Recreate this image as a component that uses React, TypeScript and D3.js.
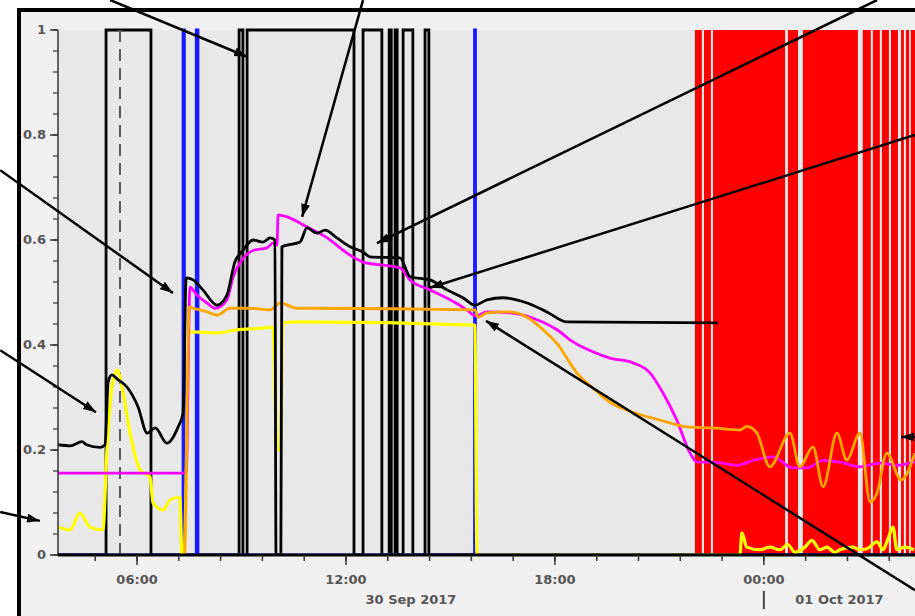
import React from 'react';
import * as d3 from 'd3';

// times are hours after 30 Sep 2017 00:00
const domainStart = 3.73;
const domainEnd = 28.34;
const cursorTime = 5.51;

// black on/off state
const stateTimes = [3.73, 5.11, 6.4, 8.93, 9.04, 9.16, 12.23, 12.49, 13.03, 13.24, 13.3, 13.41, 13.47, 13.64, 13.92, 14.27, 14.38, 28.34];
const stateLevels = [0, 1, 0, 1, 0, 1, 0, 1, 0, 1, 0, 1, 0, 1, 0, 1, 0, 0];

// blue pulses
const pulseTimes = [3.73, 7.32, 7.36, 7.7, 7.75, 15.69, 15.72, 28.34];
const pulseLevels = [0, 1, 0, 1, 0, 1, 0, 0];

// red alarm state
const alarmTimes = [3.73, 22.02, 22.22, 22.28, 22.48, 22.54, 24.61, 24.69, 24.98, 25.12, 26.7, 26.84, 27.07, 27.13, 27.33, 27.39, 27.59, 27.65, 27.85, 27.94, 28.02, 28.08, 28.17, 28.22, 28.34];
const alarmLevels = [0, 1, 0, 1, 0, 1, 0, 1, 0, 1, 0, 1, 0, 1, 0, 1, 0, 1, 0, 1, 0, 1, 0, 1, 1];

const blackTimes = [3.73, 4.08, 4.42, 4.55, 4.94, 5.08, 5.17, 5.28, 5.43, 5.71, 6.03, 6.29, 6.52, 6.86, 7.18, 7.32, 7.41, 7.61, 7.89, 8.3, 8.58, 8.81, 9.04, 9.33, 9.62, 9.82, 9.96, 9.99, 10.13, 10.16, 10.68, 10.88, 11.17, 11.4, 11.74, 12.12, 12.49, 12.69, 13.55, 13.84, 14.41, 14.9, 15.36, 15.7, 16.05, 16.51, 17.2, 17.77, 18.35, 22.68];
const blackValues = [0.21, 0.208, 0.216, 0.21, 0.205, 0.21, 0.33, 0.343, 0.335, 0.32, 0.282, 0.232, 0.242, 0.213, 0.244, 0.27, 0.528, 0.524, 0.505, 0.476, 0.495, 0.558, 0.58, 0.6, 0.596, 0.604, 0.6, 0.0, 0.0, 0.587, 0.596, 0.623, 0.613, 0.619, 0.604, 0.587, 0.577, 0.568, 0.566, 0.53, 0.524, 0.505, 0.49, 0.476, 0.486, 0.49, 0.48, 0.463, 0.444, 0.442];

const magentaTimes = [3.73, 7.41, 7.52, 7.72, 8.01, 8.24, 8.58, 8.76, 9.01, 9.33, 9.73, 9.9, 10.02, 10.05, 10.31, 10.88, 11.46, 12.03, 12.49, 13.06, 13.55, 13.84, 14.41, 14.99, 15.47, 15.73, 16.05, 16.71, 17.37, 18.06, 18.52, 19.09, 19.58, 20.24, 20.73, 21.1, 21.5, 21.88, 22.08, 22.54, 23.23, 23.69, 24.26, 24.83, 25.24, 25.7, 26.18, 26.76, 27.33, 27.82, 28.34];
const magentaValues = [0.156, 0.156, 0.51, 0.495, 0.48, 0.47, 0.486, 0.53, 0.562, 0.58, 0.585, 0.594, 0.59, 0.648, 0.644, 0.625, 0.604, 0.575, 0.558, 0.552, 0.547, 0.524, 0.505, 0.486, 0.467, 0.455, 0.463, 0.461, 0.451, 0.429, 0.406, 0.387, 0.375, 0.366, 0.347, 0.309, 0.257, 0.194, 0.177, 0.177, 0.171, 0.18, 0.187, 0.166, 0.166, 0.18, 0.177, 0.168, 0.175, 0.171, 0.177];

const orangeTimes = [7.3, 7.36, 7.5, 7.61, 8.01, 8.3, 8.67, 9.24, 9.82, 10.11, 10.59, 11.05, 15.7, 15.79, 16.05, 16.65, 17.2, 17.66, 18.14, 18.43, 18.63, 19.09, 19.58, 20.24, 21.02, 21.79, 22.54, 23.31, 23.51, 23.8, 24.17, 24.75, 25.03, 25.41, 25.7, 26.1, 26.38, 26.76, 27.05, 27.25, 27.53, 27.94, 28.34];
const orangeValues = [0.0, 0.0, 0.472, 0.47, 0.463, 0.457, 0.47, 0.47, 0.467, 0.48, 0.47, 0.47, 0.467, 0.453, 0.461, 0.463, 0.453, 0.429, 0.396, 0.366, 0.347, 0.318, 0.291, 0.272, 0.257, 0.244, 0.242, 0.238, 0.245, 0.232, 0.168, 0.232, 0.168, 0.206, 0.13, 0.232, 0.181, 0.232, 0.101, 0.118, 0.194, 0.143, 0.194];

const yellowTimes = [3.73, 4.08, 4.36, 4.65, 5.02, 5.14, 5.28, 5.43, 5.57, 5.8, 6.09, 6.37, 6.46, 6.75, 6.95, 7.23, 7.29, 7.35, 7.5, 7.61, 8.3, 8.87, 9.62, 9.9, 10.02, 10.11, 10.19, 10.59, 15.7, 15.76, 23.31, 23.37, 23.51, 23.89, 24.17, 24.46, 24.69, 24.89, 25.18, 25.38, 25.61, 25.81, 26.04, 26.18, 26.56, 26.76, 26.96, 27.25, 27.42, 27.56, 27.71, 27.82, 28.05, 28.31];
const yellowValues = [0.053, 0.048, 0.08, 0.053, 0.048, 0.206, 0.32, 0.352, 0.32, 0.232, 0.162, 0.149, 0.099, 0.086, 0.105, 0.11, 0.0, 0.0, 0.423, 0.425, 0.423, 0.429, 0.432, 0.434, 0.2, 0.2, 0.442, 0.444, 0.438, 0.0, 0.0, 0.042, 0.015, 0.01, 0.015, 0.01, 0.02, 0.005, 0.015, 0.028, 0.01, 0.015, 0.005, 0.01, 0.015, 0.01, 0.012, 0.025, 0.01, 0.03, 0.053, 0.01, 0.015, 0.01];

// annotation arrows: [tail time, tail value, head time, head value]
const arrows: [number, number, number, number][] = [
  [5.23, 1.057, 9.16, 0.949],
  [12.49, 1.057, 10.74, 0.644],
  [2.07, 0.733, 7.03, 0.499],
  [2.07, 0.39, 4.82, 0.272],
  [2.07, 0.082, 3.21, 0.065],
  [27.25, 1.057, 12.89, 0.594],
  [28.34, 0.8, 14.41, 0.509],
  [28.34, -0.067, 16.02, 0.446],
  [28.34, 0.225, 27.94, 0.225],
];

const yMajor = [0, 0.2, 0.4, 0.6, 0.8, 1];

const W = 915;
const H = 616;
const left = 58;
const top = 30;
const bottom = 555;

const base = new Date(2017, 8, 30).getTime();
const toDate = (h: number) => new Date(base + h * 3600000);
const zip = (t: number[], v: number[]) => t.map((d, i) => [d, v[i]] as [number, number]);

export default function App() {
  const x = d3.scaleTime().domain([toDate(domainStart), toDate(domainEnd)]).range([left, W]);
  const y = d3.scaleLinear().domain([0, 1]).range([bottom, top]);

  const line = d3.line<[number, number]>()
    .x(d => x(toDate(d[0])))
    .y(d => y(d[1]))
    .curve(d3.curveMonotoneX);
  const step = d3.line<[number, number]>().x(d => x(toDate(d[0]))).y(d => y(d[1])).curve(d3.curveStepAfter);
  const stepArea = d3.area<[number, number]>()
    .x(d => x(toDate(d[0])))
    .y0(y(0))
    .y1(d => y(d[1]))
    .curve(d3.curveStepAfter);

  const xMajor = x.ticks(d3.timeHour.every(6)!);
  const xMinor = d3.range(0, 30, 1.2).filter(h => h >= domainStart && h <= domainEnd);
  const yMinor = d3.range(0, 1.0001, 0.04);
  const fmt = d3.timeFormat('%H:%M');
  const dayFmt = d3.timeFormat('%d %b %Y');
  const midnight = 24;

  const font = { fontFamily: 'DejaVu Sans, Verdana, sans-serif', fontSize: 13, fontWeight: 'bold' as const, fill: '#555' };

  return (
    <>
      <style>{'body{margin:0;overflow:hidden}'}</style>
      <svg width={W} height={H} style={{ display: 'block', background: '#fff' }}>
        <defs>
          <clipPath id="plot">
            <rect x={left} y={top - 3} width={W - left} height={bottom - top + 4} />
          </clipPath>
          <marker id="ah" viewBox="0 0 13 9" refX="13" refY="4.5" markerWidth="13" markerHeight="9"
            markerUnits="userSpaceOnUse" orient="auto">
            <path d="M0,0L13,4.5L0,9z" fill="#000" />
          </marker>
        </defs>

        {/* frame */}
        <rect x={19} y={10} width={W - 19} height={H - 10} fill="#f0f0f0" />
        <rect x={left} y={top} width={W - left} height={bottom - top} fill="#e8e8e8" />

        <g clipPath="url(#plot)">
          <path d={stepArea(zip(alarmTimes, alarmLevels))!} fill="#ff0000" />
          <path d={step(zip(stateTimes, stateLevels))!} fill="none" stroke="#000" strokeWidth={2.8} />
          <line x1={x(toDate(cursorTime))} x2={x(toDate(cursorTime))} y1={y(1)} y2={y(0)}
            stroke="#5a5a5a" strokeWidth={2} strokeDasharray="12 7" />
          <path d={step(zip(pulseTimes, pulseLevels))!} fill="none" stroke="#1a1aff" strokeWidth={2.8} />
          <path d={line(zip(yellowTimes, yellowValues))!} fill="none" stroke="#ffff00" strokeWidth={3.2} strokeLinejoin="round" />
          <path d={line(zip(magentaTimes, magentaValues))!} fill="none" stroke="#ff00ff" strokeWidth={2.8} strokeLinejoin="round" />
          <path d={line(zip(orangeTimes, orangeValues))!} fill="none" stroke="#ffa500" strokeWidth={2.8} strokeLinejoin="round" />
          <path d={line(zip(blackTimes, blackValues))!} fill="none" stroke="#000" strokeWidth={2.8} strokeLinejoin="round" />
        </g>

        {/* y axis */}
        <line x1={left} x2={left} y1={top} y2={bottom} stroke="#333" strokeWidth={1.5} />
        {yMinor.map(v => (
          <line key={'ym' + v} x1={left - 5} x2={left} y1={y(v)} y2={y(v)} stroke="#333" strokeWidth={1.2} />
        ))}
        {yMajor.map(v => (
          <g key={'yt' + v}>
            <line x1={left - 8} x2={left} y1={y(v)} y2={y(v)} stroke="#333" strokeWidth={1.5} />
            <text x={left - 12} y={y(v)} textAnchor="end" dominantBaseline="middle" {...font}>{String(v)}</text>
          </g>
        ))}

        {/* x axis */}
        <line x1={left} x2={W} y1={bottom} y2={bottom} stroke="#000" strokeWidth={3} />
        {xMinor.map(h => (
          <line key={'xm' + h} x1={x(toDate(h))} x2={x(toDate(h))} y1={bottom} y2={bottom + 6} stroke="#333" strokeWidth={1.5} />
        ))}
        {xMajor.map(d => (
          <g key={'xt' + d.getTime()}>
            <line x1={x(d)} x2={x(d)} y1={bottom} y2={bottom + 10} stroke="#333" strokeWidth={1.5} />
            <text x={x(d)} y={580} textAnchor="middle" dominantBaseline="middle" {...font}>{fmt(d)}</text>
          </g>
        ))}
        <text x={(x(toDate(domainStart)) + x(toDate(midnight))) / 2} y={600} textAnchor="middle" dominantBaseline="middle" {...font}>
          {dayFmt(toDate(domainStart))}
        </text>
        <text x={(x(toDate(midnight)) + x(toDate(domainEnd))) / 2} y={600} textAnchor="middle" dominantBaseline="middle" {...font}>
          {dayFmt(toDate(midnight))}
        </text>
        <line x1={x(toDate(midnight))} x2={x(toDate(midnight))} y1={591} y2={609} stroke="#444" strokeWidth={2} />

        {/* outer frame */}
        <line x1={17} x2={W} y1={10} y2={10} stroke="#000" strokeWidth={4} />
        <line x1={19} x2={19} y1={8} y2={H} stroke="#000" strokeWidth={4} />

        {/* annotation arrows */}
        {arrows.map((a, i) => (
          <line key={'ar' + i} x1={x(toDate(a[0]))} y1={y(a[1])} x2={x(toDate(a[2]))} y2={y(a[3])}
            stroke="#000" strokeWidth={2.5} markerEnd="url(#ah)" />
        ))}
      </svg>
    </>
  );
}
